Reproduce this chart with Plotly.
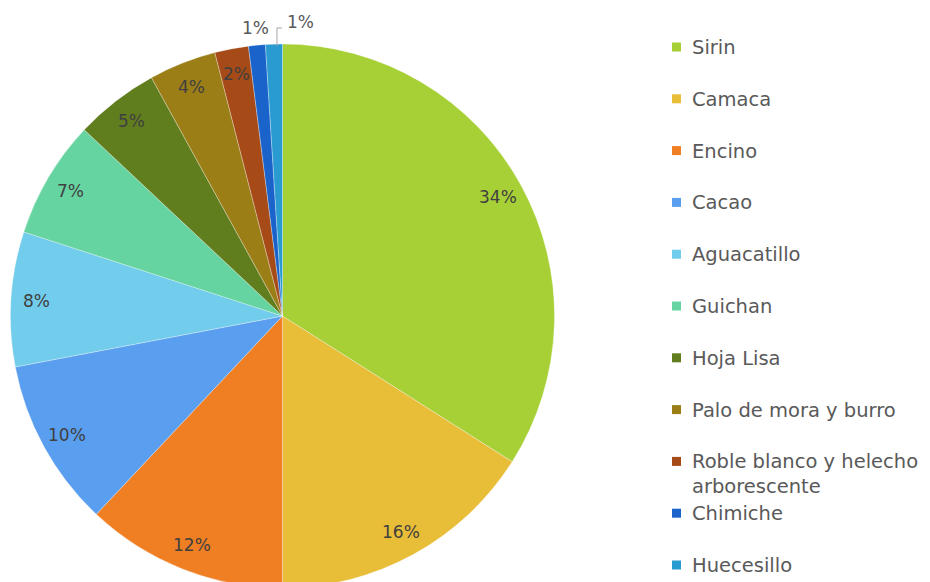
import math
import plotly.graph_objects as go

# ---- data ----
labels = ["Sirin", "Camaca", "Encino", "Cacao", "Aguacatillo", "Guichan",
          "Hoja Lisa", "Palo de mora y burro", "Roble blanco y helecho arborescente",
          "Chimiche", "Huecesillo"]
values = [34, 16, 12, 10, 8, 7, 5, 4, 2, 1, 1]
legend_text = ["Sirin", "Camaca", "Encino", "Cacao", "Aguacatillo", "Guichan",
               "Hoja Lisa", "Palo de mora y burro", "Roble blanco y helecho<br>arborescente",
               "Chimiche", "Huecesillo"]
colors = ["#A7D037", "#E8BD37", "#F07E23", "#5A9EF0", "#72CCEC", "#66D4A0",
          "#617E1E", "#9C7E17", "#A64A17", "#1A63CB", "#2A9BD1"]
outside = [False] * 9 + [True, True]

# ---- geometry (page pixels; the page body adds an 8px offset) ----
W, H = 930, 582
OFF = 8
R = 272
CX, CY = 282.5 - OFF, 316 - OFF          # centre in figure pixels, y from top
FONT = "DejaVu Sans"

fig = go.Figure(go.Pie(
    labels=labels, values=values, sort=False, direction="clockwise", rotation=0,
    marker=dict(colors=colors, line=dict(color="rgba(255,255,255,0.5)", width=0.6)),
    textinfo="none", hoverinfo="label+percent", showlegend=False,
    domain=dict(x=[(CX - R) / W, (CX + R) / W],
                y=[(H - (CY + R)) / H, (H - (CY - R)) / H]),
))

def px(x, y_top):
    return x / W, (H - y_top) / H

annotations = []
shapes = []
total = sum(values)
cum = 0
for i, v in enumerate(values):
    mid = (cum + v / 2) / total
    cum += v
    th = 2 * math.pi * mid
    pct = f"{round(100 * v / total)}%"
    if not outside[i]:
        rr = 0.905 * R
        x, y = CX + rr * math.sin(th), CY - rr * math.cos(th)
        ax, ay = px(x, y)
        annotations.append(dict(x=ax, y=ay, xref="paper", yref="paper", text=pct,
                                xanchor="center", yanchor="middle", showarrow=False,
                                font=dict(family=FONT, size=17, color="#404040")))
    elif i == len(values) - 2:
        rr = 1.064 * R
        x, y = CX + rr * math.sin(th), CY - rr * math.cos(th)
        ax, ay = px(x, y)
        annotations.append(dict(x=ax, y=ay, xref="paper", yref="paper", text=pct,
                                xanchor="center", yanchor="middle", showarrow=False,
                                font=dict(family=FONT, size=17, color="#595959")))
    else:
        ex, ey = CX + R * math.sin(th), CY - R * math.cos(th)
        x0, y0 = px(ex + 3, ey + 2)
        x1, y1 = px(ex + 3, CY - 1.059 * R)
        x2, _ = px(ex + 8, 0)
        shapes.append(dict(type="path", xref="paper", yref="paper",
                           path=f"M {x0} {y0} L {x1} {y1} L {x2} {y1}",
                           line=dict(color="#A6A6A6", width=1)))
        lx, ly = px(ex + 11, CY - 1.081 * R)
        annotations.append(dict(x=lx, y=ly, xref="paper", yref="paper", text=pct,
                                xanchor="left", yanchor="middle", showarrow=False,
                                font=dict(family=FONT, size=17, color="#595959")))

# ---- manual legend ----
LEG_X_MARK, LEG_X_TEXT, LEG_Y0, LEG_DY = 672 - OFF, 692 - OFF - 2, 47 - OFF, 51.8
for i, (t, c) in enumerate(zip(legend_text, colors)):
    yc = LEG_Y0 + i * LEG_DY
    mx0, my0 = px(LEG_X_MARK, yc - 4.5)
    mx1, my1 = px(LEG_X_MARK + 9, yc + 4.5)
    shapes.append(dict(type="rect", xref="paper", yref="paper", x0=mx0, x1=mx1,
                       y0=my1, y1=my0, fillcolor=c, line=dict(width=0)))
    tx, ty = px(LEG_X_TEXT, yc - 13)
    annotations.append(dict(x=tx, y=ty, xref="paper", yref="paper", text=t,
                            xanchor="left", yanchor="top", align="left", showarrow=False,
                            font=dict(family=FONT, size=19.5, color="#595959")))

fig.update_layout(
    width=W, height=H, margin=dict(l=0, r=0, t=0, b=0),
    paper_bgcolor="white", plot_bgcolor="white",
    annotations=annotations, shapes=shapes,
)
fig.write_html("out.html")
